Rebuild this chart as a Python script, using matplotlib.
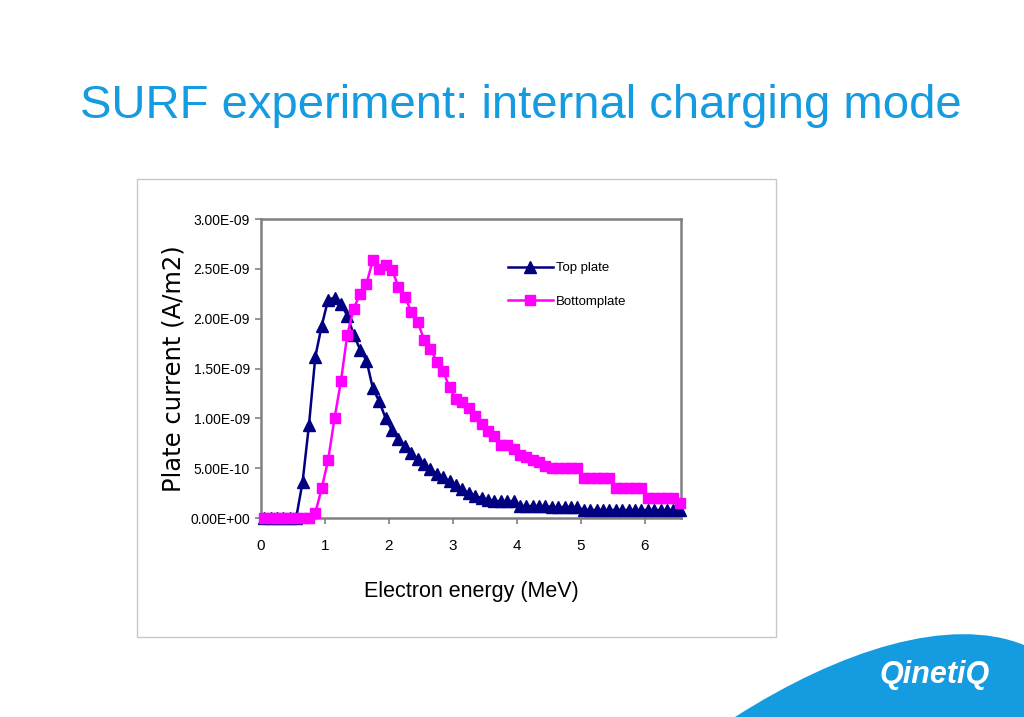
#!/usr/bin/env python3

import matplotlib
matplotlib.use("Agg")
import matplotlib.pyplot as plt
from matplotlib.patches import Rectangle, PathPatch
from matplotlib.path import Path
from matplotlib.ticker import FuncFormatter

# bin centres (MeV)
energy = [0.05, 0.15, 0.25, 0.35, 0.45, 0.55, 0.65, 0.75, 0.85, 0.95,
          1.05, 1.15, 1.25, 1.35, 1.45, 1.55, 1.65, 1.75, 1.85, 1.95,
          2.05, 2.15, 2.25, 2.35, 2.45, 2.55, 2.65, 2.75, 2.85, 2.95,
          3.05, 3.15, 3.25, 3.35, 3.45, 3.55, 3.65, 3.75, 3.85, 3.95,
          4.05, 4.15, 4.25, 4.35, 4.45, 4.55, 4.65, 4.75, 4.85, 4.95,
          5.05, 5.15, 5.25, 5.35, 5.45, 5.55, 5.65, 5.75, 5.85, 5.95,
          6.05, 6.15, 6.25, 6.35, 6.45, 6.55]

# plate currents in units of 1e-9 A/m2
top_plate = [0, 0, 0, 0, 0, 0, 0.36, 0.93, 1.62, 1.93,
             2.19, 2.21, 2.15, 2.03, 1.84, 1.69, 1.58, 1.30, 1.17, 1.00,
             0.88, 0.79, 0.72, 0.65, 0.59, 0.54, 0.49, 0.44, 0.41, 0.37,
             0.33, 0.29, 0.25, 0.22, 0.20, 0.18, 0.17, 0.17, 0.17, 0.17,
             0.12, 0.12, 0.12, 0.12, 0.12, 0.11, 0.11, 0.11, 0.11, 0.11,
             0.08, 0.08, 0.08, 0.08, 0.08, 0.08, 0.08, 0.08, 0.08, 0.08,
             0.08, 0.08, 0.08, 0.08, 0.08, 0.08]

bottom_plate = [0, 0, 0, 0, 0, 0, 0, 0, 0.05, 0.30,
                0.58, 1.00, 1.37, 1.84, 2.10, 2.25, 2.35, 2.59, 2.50, 2.54,
                2.49, 2.32, 2.22, 2.07, 1.97, 1.79, 1.70, 1.57, 1.47, 1.31,
                1.19, 1.16, 1.10, 1.02, 0.94, 0.87, 0.82, 0.73, 0.73, 0.69,
                0.63, 0.61, 0.58, 0.56, 0.52, 0.50, 0.50, 0.50, 0.50, 0.50,
                0.40, 0.40, 0.40, 0.40, 0.40, 0.30, 0.30, 0.30, 0.30, 0.30,
                0.20, 0.20, 0.20, 0.20, 0.20, 0.15]

x_ticks = [0, 1, 2, 3, 4, 5, 6]
y_ticks = [0, 0.5e-9, 1.0e-9, 1.5e-9, 2.0e-9, 2.5e-9, 3.0e-9]

BLUE = "#149be0"


def main():
    plt.rcParams["font.family"] = ["Liberation Sans", "DejaVu Sans"]
    fig = plt.figure(figsize=(10.24, 7.17), dpi=100)
    fig.patch.set_facecolor("white")

    # slide title
    fig.text(80 / 1024, 1 - 118 / 717, "SURF experiment: internal charging mode",
             color=BLUE, fontsize=34, ha="left", va="baseline")

    # chart frame
    fig.patches.append(Rectangle((137 / 1024, 1 - 637 / 717), 639 / 1024, 458 / 717,
                                 transform=fig.transFigure, fill=False,
                                 edgecolor="#c8c8c8", linewidth=1))

    # logo swoosh
    verts = [(735, 717), (840, 650), (950, 615), (1024, 645), (1024, 717), (735, 717)]
    codes = [Path.MOVETO, Path.CURVE4, Path.CURVE4, Path.CURVE4, Path.LINETO, Path.CLOSEPOLY]
    verts = [(vx / 1024, 1 - vy / 717) for vx, vy in verts]
    fig.patches.append(PathPatch(Path(verts, codes), transform=fig.transFigure,
                                 facecolor=BLUE, edgecolor="none"))
    fig.text(935 / 1024, 1 - 675 / 717, "QinetiQ", color="white", fontsize=22,
             fontweight="bold", fontstyle="italic", ha="center", va="center")

    ax = fig.add_axes([261 / 1024, 1 - 518 / 717, 420 / 1024, 299 / 717])
    top = [v * 1e-9 for v in top_plate]
    bottom = [v * 1e-9 for v in bottom_plate]
    ax.plot(energy, top, color="#000080", linewidth=1.8, marker="^",
            markersize=8, clip_on=False, label="Top plate", zorder=3)
    ax.plot(energy, bottom, color="#ff00ff", linewidth=1.8, marker="s",
            markersize=7, clip_on=False, label="Bottomplate", zorder=4)

    ax.set_xlim(0, 6.57)
    ax.set_ylim(0, 3.0e-9)
    ax.set_xticks(x_ticks)
    ax.set_yticks(y_ticks)
    ax.yaxis.set_major_formatter(FuncFormatter(lambda v, p: f"{v:.2E}"))
    for s in ax.spines.values():
        s.set_color("#808080")
        s.set_linewidth(1.8)
    ax.tick_params(colors="#808080", width=1.2, length=4, direction="out")
    for lab in ax.get_yticklabels():
        lab.set_fontsize(10)
        lab.set_color("black")
    for lab in ax.get_xticklabels():
        lab.set_fontsize(11)
        lab.set_color("black")
    ax.tick_params(axis="x", pad=11)
    ax.tick_params(axis="y", pad=4)

    ax.set_ylabel("Plate current (A/m2)", fontsize=17.5, family="DejaVu Sans", labelpad=3)
    ax.set_xlabel("Electron energy (MeV)", fontsize=15.5, labelpad=20)

    ax.legend(loc="upper left", bbox_to_anchor=(508 / 1024, 1 - 262 / 717),
              bbox_transform=fig.transFigure, frameon=False,
              handlelength=3.4, handletextpad=0.2, labelspacing=1.6,
              borderpad=0, borderaxespad=0, prop={"size": 9.5})

    fig.savefig("out.png", dpi=100, facecolor="white")


if __name__ == "__main__":
    main()
